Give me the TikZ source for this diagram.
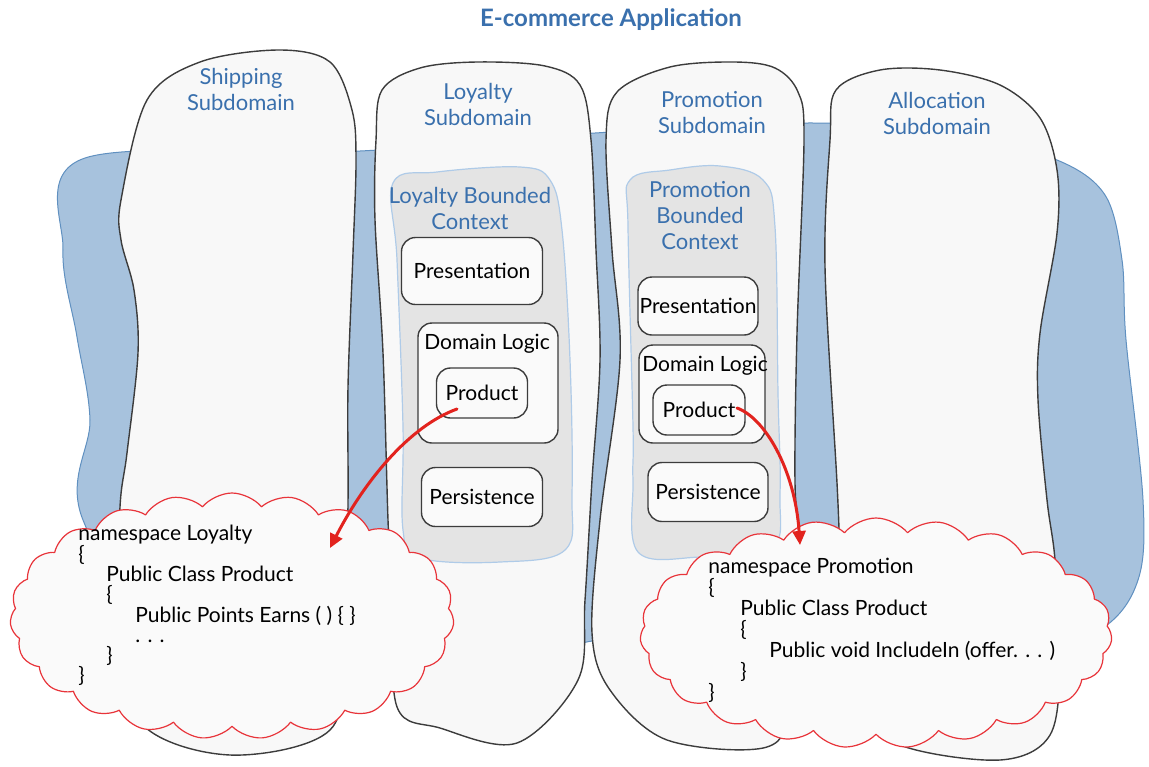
\documentclass[tikz,border=0pt]{standalone}
\usepackage{fontspec}
\setmainfont{Lato}
\usetikzlibrary{arrows.meta,positioning,calc,shapes.symbols}
\definecolor{labelblue}{HTML}{3A70AD}
\definecolor{seablue}{HTML}{A7C2DD}
\definecolor{seaedge}{HTML}{6090C0}
\definecolor{paper}{HTML}{F8F8F8}
\definecolor{ink}{HTML}{3C3C3C}
\definecolor{ctxgray}{HTML}{E4E4E4}
\definecolor{ctxedge}{HTML}{AFCBE8}
\definecolor{cloudred}{HTML}{E8343A}
\definecolor{arrowred}{HTML}{E2231E}
\tikzset{
    every picture/.style={line cap=round,line join=round},
    seashape/.style={fill=seablue,draw=seaedge,line width=0.5pt},
    subdomain/.style={fill=paper,draw=ink,line width=0.7pt},
    boundctx/.style={fill=ctxgray,draw=ctxedge,line width=0.6pt},
    layerbox/.style={draw=ink,fill=white!98!black,line width=0.7pt,
      rounded corners=7pt,inner sep=0pt,font=\fontsize{10.5}{12}\selectfont},
    sublabel/.style={text=labelblue,font=\fontsize{11}{13}\selectfont,align=center},
    codecloud/.style={cloud,cloud puffs=23,cloud puff arc=100,cloud ignores aspect,
      draw=cloudred,fill=white!98!black,line width=0.6pt,inner sep=0pt},
    codetext/.style={align=left,inner sep=0pt,anchor=north west},
    redarrow/.style={draw=arrowred,line width=1.5pt,
      -{Triangle[length=7pt,width=6.5pt]}}
}
\begin{document}
\begin{tikzpicture}[x=0.5pt,y=-0.5pt]
  \useasboundingbox (0,0) rectangle (1149,766);
  \node[text=labelblue,font=\bfseries\fontsize{12}{14}\selectfont] (title) at (611,20) {E-commerce Application};
  % blue layer behind the subdomains
  \draw[seashape] plot[smooth cycle,tension=0.55] coordinates {(85,158) (360,151) (595,133) (815,123)
    (960,135) (1057,160) (1105,195) (1122,260) (1126,340) (1143,500) (1138,580) (1100,630) (1000,670)
    (700,660) (600,640) (450,680) (200,690) (83,520) (90,420) (77,337) (63,250)};
  % subdomains
  \draw[subdomain] plot[smooth cycle,tension=0.55] coordinates {(121,200) (147,100) (200,62) (279,50)
    (330,62) (352,110) (356,160) (353,253) (348,387) (348,503) (345,640) (330,730) (230,755) (140,722)
    (118,620) (120,507) (127,453) (138,353) (134,290) (121,240)};
  \draw[subdomain] plot[smooth cycle,tension=0.55] coordinates {(376,140) (382,90) (420,68) (477,62)
    (545,66) (580,85) (591,140) (596,250) (600,360) (592,480) (585,600) (578,680) (517,743)
    (440,728) (397,707) (392,600) (388,520) (383,353) (375,220)};
  \draw[subdomain] plot[smooth cycle,tension=0.55] coordinates {(606,140) (617,92) (670,67) (734,62)
    (775,68) (798,92) (804,140) (797,333) (795,483) (800,560) (790,700) (767,747) (667,740)
    (610,690) (592,633) (600,520) (620,360) (612,250)};
  \draw[subdomain] plot[smooth cycle,tension=0.55] coordinates {(830,140) (836,90) (880,70) (940,70)
    (1000,85) (1040,118) (1057,170) (1057,233) (1040,333) (1038,400) (1047,500) (1055,560)
    (1060,660) (1050,735) (1000,760) (900,745) (850,700) (842,600) (837,483) (825,267)};
  \node[sublabel] (shiplbl) at (241,89) {Shipping\\Subdomain};
  \node[sublabel] (loylbl) at (478,104) {Loyalty\\Subdomain};
  \node[sublabel] (promlbl) at (712,113) {Promotion\\Subdomain};
  \node[sublabel] (alloclbl) at (937,113) {Allocation\\Subdomain};
  % bounded contexts
  \draw[boundctx] plot[smooth cycle,tension=0.6] coordinates {(393,183) (437,172) (520,167) (550,180)
    (562,230) (570,360) (572,493) (565,550) (500,562) (420,558) (403,530) (403,427) (397,260)};
  \draw[boundctx] plot[smooth cycle,tension=0.6] coordinates {(630,180) (670,170) (720,166) (763,180)
    (775,227) (778,393) (780,493) (772,548) (700,557) (638,552) (633,480) (633,427) (628,227)};
  \node[sublabel] (loyctxlbl) at (470,208) {Loyalty Bounded\\Context};
  \node[sublabel] (promctxlbl) at (700,216) {Promotion\\Bounded\\Context};
  % layers
  \node[layerbox,minimum width=70.5pt,minimum height=33.5pt] (loypres) at (472,271) {Presentation};
  \node[layerbox,minimum width=70pt,minimum height=60pt] (loydom) at (488,383) {};
  \node[font=\fontsize{10.5}{12}\selectfont,inner sep=0pt] (loydomlbl) at (487,344) {Domain Logic};
  \node[layerbox,minimum width=45.5pt,minimum height=25pt] (loyprod) at (482,393) {Product};
  \node[layerbox,minimum width=60.5pt,minimum height=29.5pt] (loypers) at (482,497) {Persistence};
  \node[layerbox,minimum width=60pt,minimum height=29pt] (prompres) at (698,306) {Presentation};
  \node[layerbox,minimum width=63pt,minimum height=49pt] (promdom) at (702,394) {};
  \node[font=\fontsize{10.5}{12}\selectfont,inner sep=0pt] (promdomlbl) at (705,366) {Domain Logic};
  \node[layerbox,minimum width=46pt,minimum height=25pt] (promprod) at (699,410) {Product};
  \node[layerbox,minimum width=60pt,minimum height=29.5pt] (prompers) at (708,492) {Persistence};
  % code clouds
  \node[codecloud,minimum width=222pt,minimum height=123pt] (loycloud) at (232,616) {};
  \node[codecloud,minimum width=236pt,minimum height=115pt] (promcloud) at (876,633) {};
  \node[codetext,font=\fontsize{10.5}{10.15}\selectfont] (loycode) at (78,525) {namespace Loyalty\\
    \{\\
    \hspace*{14pt}Public Class Product\\
    \hspace*{14pt}\{\\
    \hspace*{28.5pt}Public Points Earns ( ) \{ \}\\
    \hspace*{28.5pt}. . .\\
    \hspace*{14pt}\}\\
    \}};
  \node[codetext,font=\fontsize{10.5}{10.5}\selectfont] (promcode) at (708,558) {namespace Promotion\\
    \{\\
    \hspace*{16pt}Public Class Product\\
    \hspace*{16pt}\{\\
    \hspace*{30.5pt}Public void IncludeIn (offer. . . )\\
    \hspace*{16pt}\}\\
    \}};
  % mapping arrows
  \coordinate (loystart) at ($(loyprod.center)+(-25,16)$);
  \coordinate (loytip) at ($(loycloud.center)+(98,-68)$);
  \coordinate (promstart) at ($(promprod.center)+(38,-2)$);
  \coordinate (promtip) at ($(promcloud.center)+(-76,-88)$);
  \draw[redarrow] (loystart) .. controls ($(loystart)+(-47,17)$) and ($(loytip)+(35,-68)$) .. (loytip);
  \draw[redarrow] (promstart) .. controls ($(promstart)+(28,10)$) and ($(promtip)+(-5,-75)$) .. (promtip);
\end{tikzpicture}
\end{document}
